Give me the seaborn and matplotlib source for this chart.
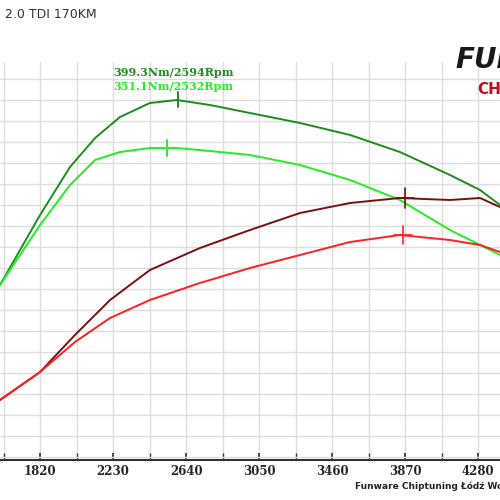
import numpy as np
import pandas as pd
import seaborn as sns
from matplotlib import pyplot as plt
from matplotlib.ticker import MultipleLocator

sns.set_theme(style='white')
plt.rcParams['font.family'] = ['DejaVu Sans']

# rpm sample points
rpm_tq = [1595, 1820, 1988, 2129, 2269, 2437, 2589, 2774, 2999, 3280, 3561, 3841, 4122, 4291, 4403]
torque_tuned = [214, 284, 332, 361, 382, 396, 399, 394, 386, 376, 364, 347, 324, 309, 294]
torque_stock = [214, 274, 314, 339, 347, 351, 351, 348, 344, 334, 319, 299, 269, 254, 244]
rpm_pw = [1595, 1820, 2016, 2213, 2437, 2718, 2999, 3280, 3561, 3841, 4122, 4291, 4403]
power_tuned = [99, 127, 164, 199, 229, 251, 269, 286, 296, 301, 299, 301, 292]
power_stock = [99, 127, 157, 181, 199, 216, 231, 244, 257, 264, 259, 254, 247]

series = {'tuned_tq': (rpm_tq, torque_tuned, '#1e8c1e'), 'stock_tq': (rpm_tq, torque_stock, '#22ee22'),
          'tuned_pw': (rpm_pw, power_tuned, '#7a1010'), 'stock_pw': (rpm_pw, power_stock, '#ff2020')}
df = pd.concat([pd.DataFrame({'rpm': r, 'val': v, 's': k}) for k, (r, v, c) in series.items()])

fig = plt.figure(figsize=(5, 5), dpi=100)
ax = fig.add_axes([0, 0.08, 1, 0.796])
sns.lineplot(ax=ax, data=df, x='rpm', y='val', hue='s',
             palette={k: c for k, (r, v, c) in series.items()}, legend=False, linewidth=1.4)

ax.set_xlim(1595, 4403)
ax.set_ylim(39, 437)
ax.xaxis.set_major_locator(MultipleLocator(410, offset=1820 % 410))
ax.xaxis.set_minor_locator(MultipleLocator(205, offset=1820 % 205))
ax.yaxis.set_major_locator(MultipleLocator(21, offset=0))
ax.grid(True, which='both', color='#dddddd', linewidth=1)
ax.set_axisbelow(True)
ax.set_yticklabels([])
ax.tick_params(axis='y', length=0)
ax.tick_params(axis='x', which='both', direction='in', length=5, bottom=True, color='#333333')
for lab in ax.get_xticklabels():
    lab.set_fontweight('bold'); lab.set_fontsize(8.5); lab.set_fontfamily('serif')
for s in ['top', 'left', 'right']:
    ax.spines[s].set_visible(False)
ax.spines['bottom'].set_color('#333333')
ax.spines['bottom'].set_linewidth(1.5)
ax.set_xlabel(''); ax.set_ylabel('')

# peak markers
ax.plot([2594, 2594], [392, 407], color='#1e8c1e', lw=1.4)
ax.plot([2532, 2532], [343, 359], color='#22ee22', lw=1.4)
ax.plot([3870, 3870], [291, 311], color='#7a1010', lw=1.2)
ax.plot([3820, 3920], [301, 301], color='#7a1010', lw=1.2)
ax.plot([3860, 3860], [255, 273], color='#ff2020', lw=1.2)
ax.plot([3810, 3910], [264, 264], color='#ff2020', lw=1.2)

ax.text(2230, 423, '399.3Nm/2594Rpm', color='#1e8c1e', fontsize=8, fontweight='bold', family='serif')
ax.text(2230, 409, '351.1Nm/2532Rpm', color='#22ee22', fontsize=8, fontweight='bold', family='serif')

fig.text(0.01, 0.965, '2.0 TDI 170KM', fontsize=9, color='#333333')
fig.text(0.91, 0.865, 'FUN', fontsize=20, fontweight='bold', style='italic', color='#1a1a1a')
fig.text(0.955, 0.812, 'CHIP', fontsize=11, fontweight='bold', color='#c01020')
fig.text(0.71, 0.022, 'Funware Chiptuning Łódź Wodorowa', fontsize=6.5, fontweight='bold', color='#222222')

fig.savefig('out.png', dpi=100)
